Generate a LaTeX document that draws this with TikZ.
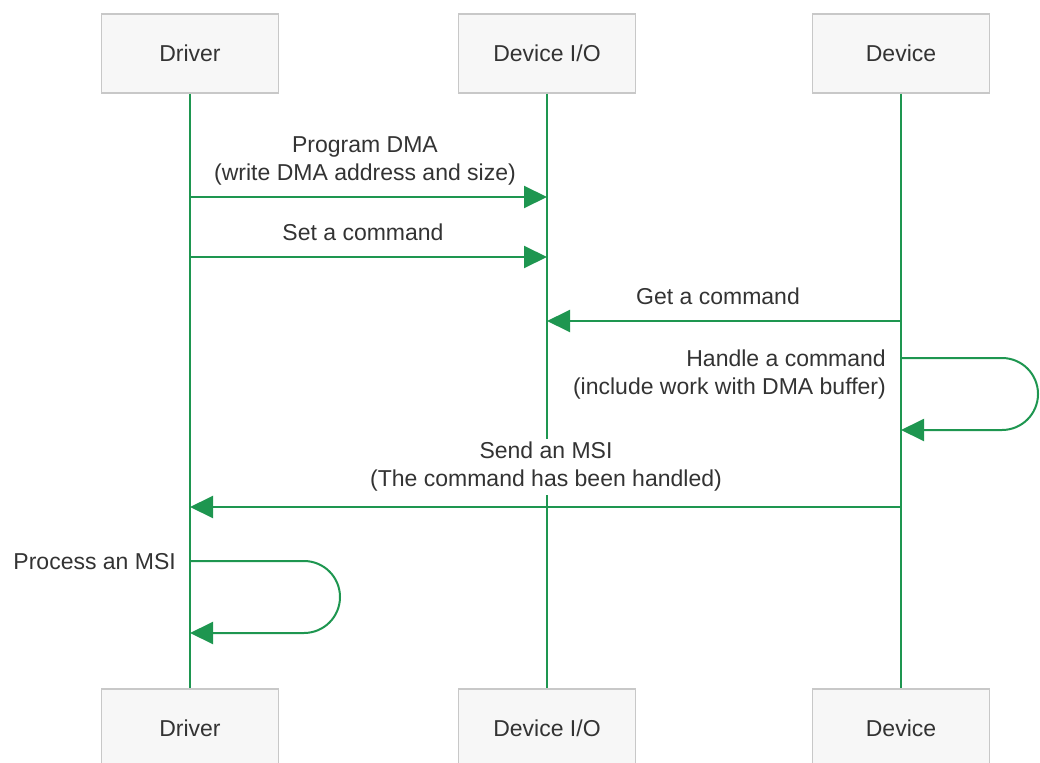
\documentclass[tikz,border=0pt]{standalone}
\usepackage{fontspec}
\setmainfont{Liberation Sans}
\usetikzlibrary{arrows.meta}
\definecolor{flow}{RGB}{30,150,80}
\definecolor{boxfill}{RGB}{247,247,247}
\definecolor{boxline}{RGB}{200,200,200}
\definecolor{ink}{RGB}{51,51,51}
\begin{document}
\begin{tikzpicture}[x=1pt,y=-1pt,
  actor/.style={draw=boxline, fill=boxfill, line width=1.5pt,
    minimum width=177pt, minimum height=79pt, inner sep=0pt,
    text=ink, font=\fontsize{23}{28}\selectfont},
  lifeline/.style={draw=flow, line width=2pt},
  msg/.style={draw=flow, line width=2pt,
    -{Triangle[length=23pt,width=22pt]}},
  lbl/.style={text=ink, font=\fontsize{23}{28}\selectfont,
    inner sep=3pt, align=center},
]
\useasboundingbox (0,0) rectangle (1040,762);
\clip (0,0) rectangle (1040,762);

% participants, top and bottom
\node[actor] (drvT) at (190,53.5)   {Driver};
\node[actor] (ioT)  at (547,53.5)   {Device I/O};
\node[actor] (devT) at (901,53.5)   {Device};
\node[actor] (drvB) at (190,728.5)  {Driver};
\node[actor] (ioB)  at (547,728.5)  {Device I/O};
\node[actor] (devB) at (901,728.5)  {Device};

% lifelines
\draw[lifeline] (drvT) -- (drvB);
\draw[lifeline] (ioT) -- (ioB);
\draw[lifeline] (devT) -- (devB);

% message anchor points on the lifelines
\coordinate (d1) at (drvT |- 0,197);
\coordinate (i1) at (ioT  |- 0,197);
\coordinate (d2) at (drvT |- 0,257);
\coordinate (i2) at (ioT  |- 0,257);
\coordinate (v3) at (devT |- 0,321);
\coordinate (i3) at (ioT  |- 0,321);
\coordinate (v4) at (devT |- 0,358);
\coordinate (v5) at (devT |- 0,430);
\coordinate (v6) at (devT |- 0,507);
\coordinate (d6) at (drvT |- 0,507);
\coordinate (d7) at (drvT |- 0,561);
\coordinate (d8) at (drvT |- 0,633);

% messages
\draw[msg] (d1) -- (i1);
\draw[msg] (d2) -- (i2);
\draw[msg] (v3) -- (i3);
\draw[msg, rounded corners=36pt] (v4) -- ++(137,0) -- ++(0,72) -- (v5);
\draw[msg] (v6) -- (d6);
\draw[msg, rounded corners=36pt] (d7) -- ++(150,0) -- ++(0,72) -- (d8);

% labels
\node[lbl] (l1) at (365,161) {Program DMA\\(write DMA address and size)};
\node[lbl, anchor=base] (l2) at (363,240) {Set a command};
\node[lbl, anchor=base] (l3) at (718,304) {Get a command};
\node[lbl, align=right, anchor=east] (l4) at (889,375)
  {Handle a command\\(include work with DMA buffer)};
\node[lbl, fill=white] (l5) at (546,467)
  {Send an MSI\\(The command has been handled)};
\node[lbl, anchor=base east] (l6) at (179,569) {Process an MSI};
\end{tikzpicture}
\end{document}
